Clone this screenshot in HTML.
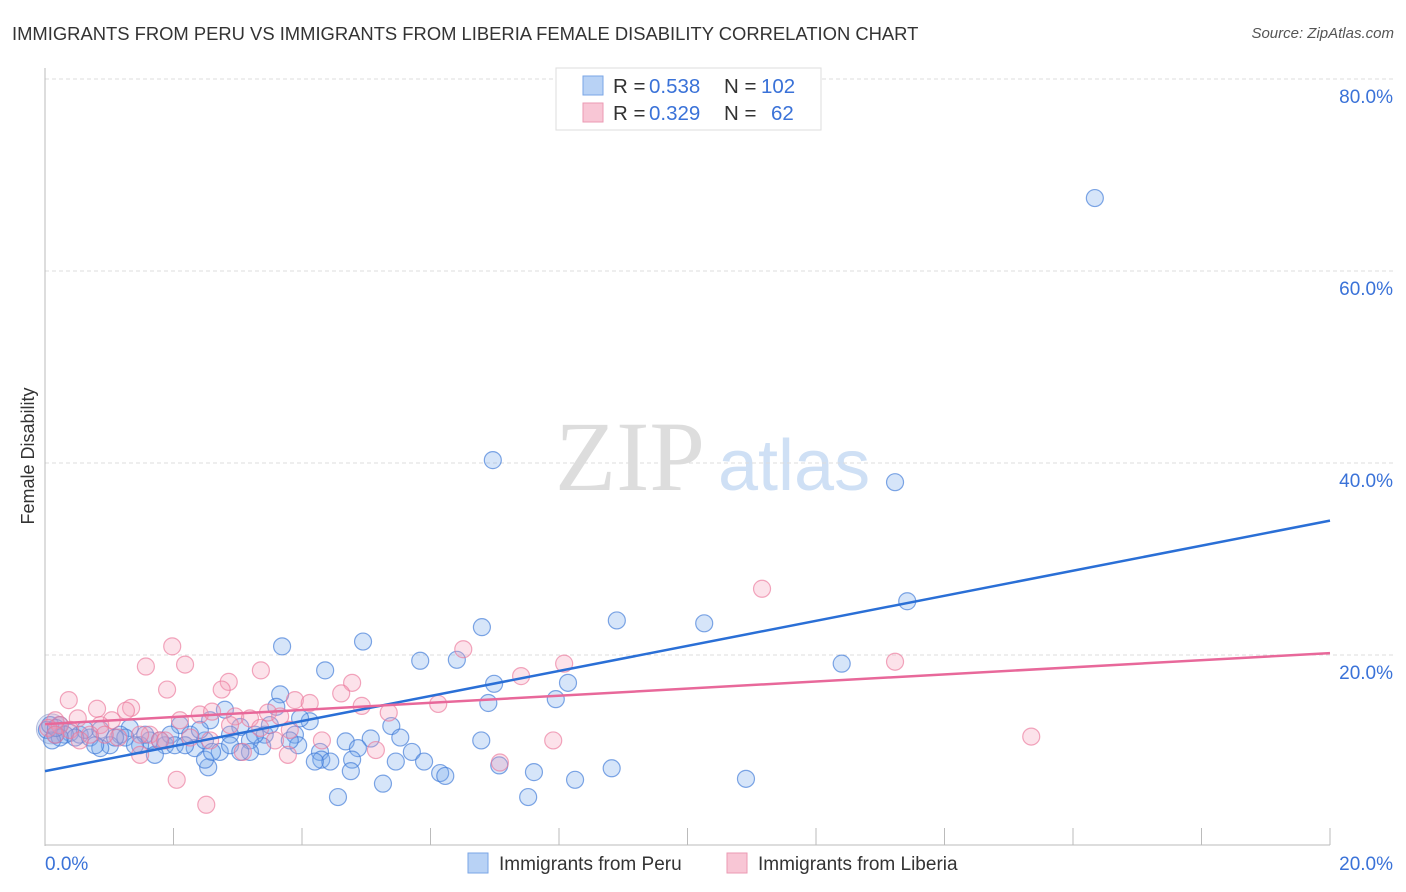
<!DOCTYPE html>
<html><head><meta charset="utf-8"><style>
body{margin:0;background:#fff;font-family:"Liberation Sans",sans-serif;}
#wrap{position:relative;width:1406px;height:892px;overflow:hidden}
.t{position:absolute;white-space:nowrap}
</style></head><body>
<div id="wrap">
<div class="t" style="left:12px;top:23px;font-size:18.4px;color:#333">IMMIGRANTS FROM PERU VS IMMIGRANTS FROM LIBERIA FEMALE DISABILITY CORRELATION CHART</div>
<div class="t" style="right:12px;top:25px;font-size:15px;color:#555;font-style:italic">Source: ZipAtlas.com</div>
<svg id="svg" width="1406" height="892" style="position:absolute;left:0;top:0"></svg>
</div>
<script>
const yTicks=[20,40,60,80];
const yTickLabels=["20.0%","40.0%","60.0%","80.0%"];
const xTickLabels=["0.0%","20.0%"];
const peruX=[16.34,6.97,13.23,13.42,8.90,10.26,12.40,6.80,4.95,3.69,5.84,6.41,4.36,6.99,8.14,7.95,6.90,3.66,3.60,2.80,4.12,5.39,6.79,5.53,4.68,5.07,3.89,3.42,3.04,2.57,2.10,1.32,0.86,0.39,0.16,0.23,0.54,0.70,1.17,1.63,1.87,2.33,2.49,2.72,3.19,3.38,3.94,4.28,4.87,5.71,4.30,4.78,4.44,4.20,5.46,5.90,4.76,2.54,2.49,6.15,6.23,7.61,8.82,8.25,10.91,5.26,4.56,7.52,7.07,0.03,0.08,0.31,1.01,1.48,1.95,2.26,2.88,3.27,0.86,1.71,2.88,3.50,3.81,2.41,1.56,1.25,0.62,0.47,0.23,0.11,0.78,2.02,3.19,3.04,2.60,0.17,1.79,2.18,1.40,1.09,3.97];
const peruY=[67.6,40.3,38.0,25.6,23.6,23.3,19.1,22.9,21.4,20.9,19.4,19.5,18.4,17.0,17.1,15.4,15.0,15.9,14.6,14.3,13.1,12.6,11.1,11.4,11.0,11.3,11.7,11.7,12.5,13.2,12.7,12.4,12.2,11.9,11.7,12.7,11.7,11.4,11.7,11.1,10.6,10.3,11.1,9.9,11.1,10.5,10.6,9.9,10.3,9.9,9.1,9.1,8.9,8.9,8.9,8.9,7.9,8.3,9.1,7.7,7.4,7.8,8.2,7.0,7.1,6.6,5.2,5.2,8.5,12.2,12.7,11.7,10.6,10.6,11.7,11.7,11.7,11.7,10.3,9.6,10.6,12.7,11.1,12.2,11.7,11.4,12.2,11.4,11.4,11.1,10.6,10.6,9.9,9.9,9.9,12.4,11.1,10.6,10.6,11.4,13.4];
const liberiaX=[11.16,6.51,8.08,13.23,1.98,2.18,1.57,1.90,3.36,4.78,2.86,2.75,7.41,4.61,3.89,4.12,4.93,5.35,6.12,0.37,0.81,1.34,1.26,1.04,0.51,0.86,2.41,2.60,2.96,3.19,3.47,3.66,2.10,1.63,1.79,7.91,15.35,7.08,5.15,4.31,3.08,3.78,1.48,2.05,2.51,0.16,0.23,0.05,0.39,0.70,1.14,1.48,1.87,2.26,2.57,3.58,3.81,2.88,3.35,0.16,0.54,0.93];
const liberiaY=[26.9,20.6,19.1,19.3,20.9,19.0,18.8,16.4,18.4,17.1,17.2,16.4,17.8,16.0,15.3,15.0,14.7,14.0,14.9,15.3,14.4,14.5,14.2,13.2,13.4,12.7,13.8,14.1,13.6,13.4,14.0,13.6,13.2,11.7,11.1,11.1,11.5,8.8,10.1,11.1,9.9,9.6,9.6,7.0,4.4,13.2,12.7,12.4,12.2,11.7,11.4,11.7,11.1,11.4,11.1,11.1,12.2,12.7,12.4,11.7,11.1,11.7];
const peruTrend=[7.9,34.0];
const liberiaTrend=[12.8,20.2];
const NS="http://www.w3.org/2000/svg";
const svg=document.getElementById('svg');
const X0=45,X1=1330,Y0=847;
function sx(v){return X0+v*(X1-X0)/20;}
function sy(v){return Y0-v*9.6;}
function mk(tag,attrs,name){const e=document.createElementNS(NS,tag);for(const k in attrs)e.setAttribute(k,attrs[k]);


svg.appendChild(e);return e;}
let wm=mk('text',{x:555,y:490,'font-size':100,'font-family':'Liberation Serif','fill':'#ddd'},'watermark-zip');wm.textContent='ZIP';
let wm2=mk('text',{x:718,y:490,'font-size':72,'font-family':'Liberation Sans','fill':'#cfe0f5'},'watermark-atlas');wm2.textContent='atlas';
yTicks.forEach((t,i)=>{mk('line',{x1:X0,x2:1395,y1:sy(t),y2:sy(t),stroke:'#ddd','stroke-dasharray':'4,3'},'gridline');
let l=mk('text',{x:1393,y:sy(t)+24,'text-anchor':'end','font-size':19,fill:'#3a72d8'},'y-tick-label');l.textContent=yTickLabels[i];});
mk('line',{x1:X0,x2:X0,y1:68,y2:846,stroke:'#bbb'},'y-axis-line');
mk('line',{x1:X0,x2:X1,y1:845,y2:845,stroke:'#bbb'},'x-axis-line');
for(let i=0;i<=10;i++){mk('line',{x1:sx(i*2),x2:sx(i*2),y1:828,y2:845,stroke:'#bbb'},'x-tick');}
let xl=mk('text',{x:45,y:870,'font-size':19,fill:'#3a72d8'},'x-tick-label');xl.textContent=xTickLabels[0];
let xr=mk('text',{x:1393,y:870,'text-anchor':'end','font-size':19,fill:'#3a72d8'},'x-tick-label');xr.textContent=xTickLabels[1];
let yt=mk('text',{x:34,y:456,'font-size':18,fill:'#333','text-anchor':'middle',transform:'rotate(-90 34 456)'},'y-axis-title');yt.textContent='Female Disability';
mk('circle',{cx:sx(0.1),cy:sy(12.3),r:15,fill:'rgba(160,190,235,0.35)',stroke:'rgba(140,150,200,0.6)'},'peru-point-large');
peruX.forEach((v,i)=>{mk('circle',{cx:sx(v),cy:sy(peruY[i]),r:8.5,fill:'rgba(120,170,235,0.3)',stroke:'rgba(60,120,215,0.65)','stroke-width':1.2},'peru-point');});
liberiaX.forEach((v,i)=>{mk('circle',{cx:sx(v),cy:sy(liberiaY[i]),r:8.5,fill:'rgba(245,160,185,0.3)',stroke:'rgba(235,120,155,0.65)','stroke-width':1.2},'liberia-point');});
mk('line',{x1:sx(0),y1:sy(peruTrend[0]),x2:sx(20),y2:sy(peruTrend[1]),stroke:'#2a6fd6','stroke-width':2.5},'peru-trendline');
mk('line',{x1:sx(0),y1:sy(liberiaTrend[0]),x2:sx(20),y2:sy(liberiaTrend[1]),stroke:'#e8689a','stroke-width':2.5},'liberia-trendline');
mk('rect',{x:556,y:68,width:265,height:62,fill:'#fff',stroke:'#ddd'},'stats-legend');
mk('rect',{x:583,y:76,width:20,height:19,fill:'#b8d2f5',stroke:'#7aa6e6'},'peru-stats-swatch');
mk('rect',{x:583,y:103,width:20,height:19,fill:'#f8c6d5',stroke:'#eb9ab3'},'liberia-stats-swatch');
function st(x,y,txt,col,name){let e=mk('text',{x:x,y:y,'font-size':20.5,fill:col},name);e.textContent=txt;}
st(613,93,'R = ','#333','peru-r-label');st(649,93,'0.538','#3a72d8','peru-r-value');st(724,93,'N = ','#333','peru-n-label');st(761,93,'102','#3a72d8','peru-n-value');
st(613,120,'R = ','#333','liberia-r-label');st(649,120,'0.329','#3a72d8','liberia-r-value');st(724,120,'N = ','#333','liberia-n-label');st(771,120,'62','#3a72d8','liberia-n-value');
mk('rect',{x:468,y:853,width:20,height:20,fill:'#b8d2f5',stroke:'#7aa6e6'},'peru-legend-swatch');
let lp=mk('text',{x:499,y:870,'font-size':19,fill:'#333'},'peru-legend-label');lp.textContent='Immigrants from Peru';
mk('rect',{x:727,y:853,width:20,height:20,fill:'#f8c6d5',stroke:'#eb9ab3'},'liberia-legend-swatch');
let ll=mk('text',{x:758,y:870,'font-size':19,fill:'#333'},'liberia-legend-label');ll.textContent='Immigrants from Liberia';
</script>
</body></html>
